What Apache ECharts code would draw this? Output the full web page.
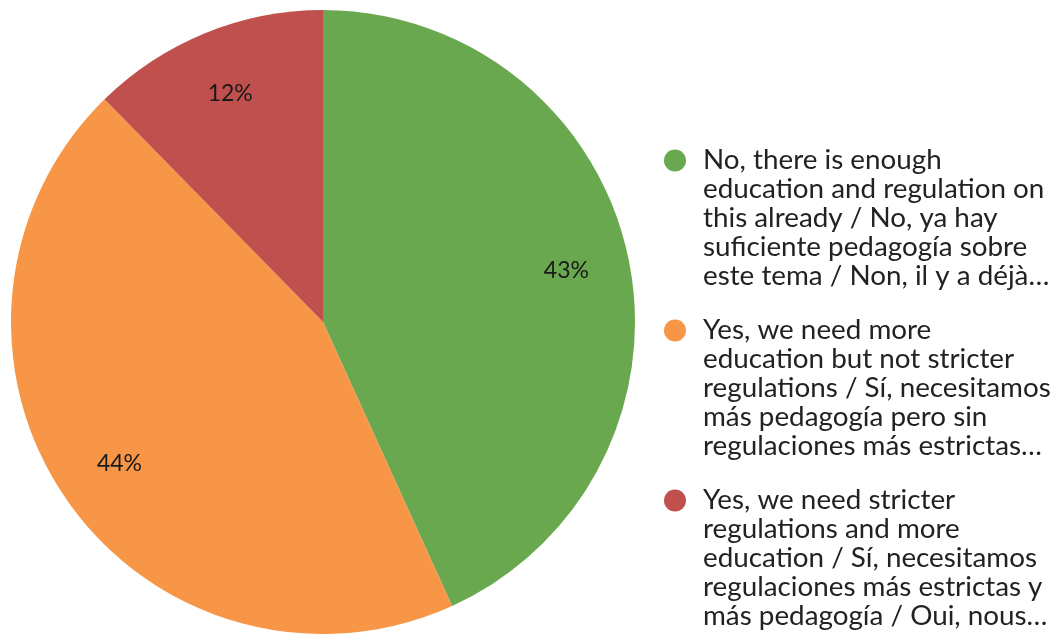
<!DOCTYPE html>
<html>
<head>
<meta charset="utf-8">
<script src="https://cdn.jsdelivr.net/npm/echarts@6/dist/echarts.min.js"></script>
<style>
  html, body { margin: 0; padding: 0; background: #ffffff; }
  #chart { width: 1055px; height: 637px; }
</style>
</head>
<body>
<div id="chart"></div>
<script>
// Answer options, wrapped into the lines shown in the legend
const categoryLines = [
  ['No, there is enough', 'education and regulation on', 'this already / No, ya hay', 'suficiente pedagogía sobre', 'este tema / Non, il y a déjà…'],
  ['Yes, we need more', 'education but not stricter', 'regulations / Sí, necesitamos', 'más pedagogía pero sin', 'regulaciones más estrictas…'],
  ['Yes, we need stricter', 'regulations and more', 'education / Sí, necesitamos', 'regulaciones más estrictas y', 'más pedagogía / Oui, nous…']
];
const categories = categoryLines.map(lines => lines.join(' '));
// Number of responses per option
const responses = [35, 36, 10];
const colors = ['#6aa84f', '#f79646', '#c0504d'];

const chart = echarts.init(document.getElementById('chart'));

const pieData = categories.map((name, i) => ({ name: name, value: responses[i] }));
const total = responses.reduce((a, b) => a + b, 0);

const dotStyles = {};
colors.forEach((c, i) => {
  dotStyles['d' + i] = { width: 22, height: 22, borderRadius: 11, backgroundColor: c, lineHeight: 29 };
});
dotStyles.gap = { width: 17, lineHeight: 29 };
dotStyles.ind = { width: 39, lineHeight: 29 };

chart.setOption({
  animation: false,
  color: colors,
  legend: {
    orient: 'vertical',
    left: 659,
    top: 146,
    padding: 0,
    icon: 'none',
    itemWidth: 0,
    itemHeight: 14,
    itemGap: 25,
    selectedMode: false,
    data: categories,
    formatter: function (name) {
      const i = categories.indexOf(name);
      return categoryLines[i].map((line, k) =>
        k === 0 ? '{d' + i + '|}{gap|}' + line : '{ind|}' + line
      ).join('\n');
    },
    textStyle: {
      fontFamily: 'Lato',
      fontSize: 27.8,
      lineHeight: 29,
      color: '#222222',
      rich: dotStyles
    }
  },
  series: [
    {
      // visible slices
      type: 'pie',
      center: [323, 322],
      radius: [0, 312],
      startAngle: 90,
      clockwise: true,
      silent: true,
      label: { show: false },
      labelLine: { show: false },
      data: pieData
    },
    {
      // percentage labels, placed at about 79% of the slice radius
      type: 'pie',
      center: [324, 323],
      radius: [0, 490],
      startAngle: 90,
      clockwise: true,
      silent: true,
      itemStyle: { color: 'rgba(0,0,0,0)' },
      label: {
        show: true,
        position: 'inside',
        rotate: 0,
        fontFamily: 'Lato',
        fontSize: 23,
        color: '#1a1a1a',
        formatter: function (p) { return Math.round(p.value / total * 100) + '%'; }
      },
      labelLine: { show: false },
      data: pieData
    }
  ]
});
</script>
</body>
</html>
